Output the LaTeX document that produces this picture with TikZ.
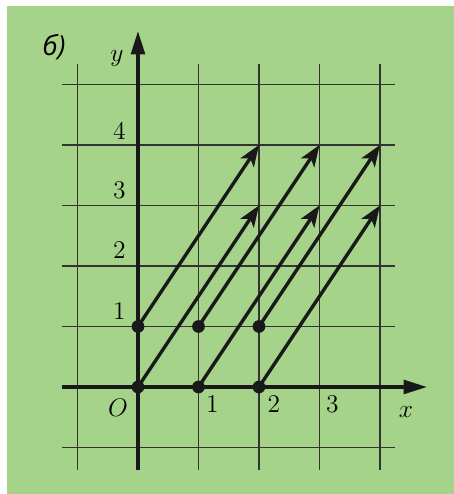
\documentclass[tikz,border=0pt]{standalone}
\usepackage{fontspec}
\newfontfamily\partfont{Open Sans}
\usetikzlibrary{arrows.meta}
\definecolor{bg}{RGB}{166,211,138}
\begin{document}
\begin{tikzpicture}[x=1cm,y=1cm,
  gridline/.style={black!80, line width=0.7pt},
  axisline/.style={black!90, line width=1.5pt, -{Triangle[length=11pt,width=6.5pt]}},
  vec/.style={black!90, line width=1.6pt, -{Stealth[length=10pt,width=7.5pt,inset=2.5pt]}},
  dot/.style={circle, fill=black!90, inner sep=0pt, minimum size=6pt},
  lbl/.style={font=\fontsize{12}{14}\selectfont, inner sep=0pt}]
\useasboundingbox (-2.281,-1.769) rectangle (5.223,6.397);
\fill[bg] (-2.165,-1.769) rectangle (5.223,6.298);
% grid
\foreach \i in {-1,1,2,3,4}
  \draw[gridline] (\i,-1.372) -- (\i,5.339);
\foreach \j in {-1,1,2,3,4,5}
  \draw[gridline] (-1.256,\j) -- (4.248,\j);
% axes
\coordinate (xs) at (-1.256,0);
\coordinate (xe) at (4.777,0);
\coordinate (ys) at (0,-1.372);
\coordinate (ye) at (0,5.884);
\draw[axisline] (xs) -- (xe);
\draw[axisline] (ys) -- (ye);
% points
\node[dot] (p00) at (0,0) {};
\node[dot] (p10) at (1,0) {};
\node[dot] (p20) at (2,0) {};
\node[dot] (p01) at (0,1) {};
\node[dot] (p11) at (1,1) {};
\node[dot] (p21) at (2,1) {};
\coordinate (q23) at (2,3);
\coordinate (q33) at (3,3);
\coordinate (q43) at (4,3);
\coordinate (q24) at (2,4);
\coordinate (q34) at (3,4);
\coordinate (q44) at (4,4);
\draw[vec] (p00.center) -- (q23);
\draw[vec] (p10.center) -- (q33);
\draw[vec] (p20.center) -- (q43);
\draw[vec] (p01.center) -- (q24);
\draw[vec] (p11.center) -- (q34);
\draw[vec] (p21.center) -- (q44);
% labels
\node[lbl] (lb) at (-1.388,5.62) {\partfont\itshape\fontsize{13}{15}\selectfont б)};
\node[lbl] (ly) at (-0.347,5.438) {$y$};
\node[lbl] (lx) at (4.43,-0.413) {$x$};
\node[lbl] (lo) at (-0.331,-0.347) {$O$};
\node[lbl] (lx1) at (1.231,-0.281) {1};
\node[lbl] (lx2) at (2.248,-0.281) {2};
\node[lbl] (lx3) at (3.215,-0.281) {3};
\node[lbl] (ly1) at (-0.306,1.256) {1};
\node[lbl] (ly2) at (-0.306,2.256) {2};
\node[lbl] (ly3) at (-0.306,3.256) {3};
\node[lbl] (ly4) at (-0.306,4.236) {4};
\end{tikzpicture}
\end{document}
